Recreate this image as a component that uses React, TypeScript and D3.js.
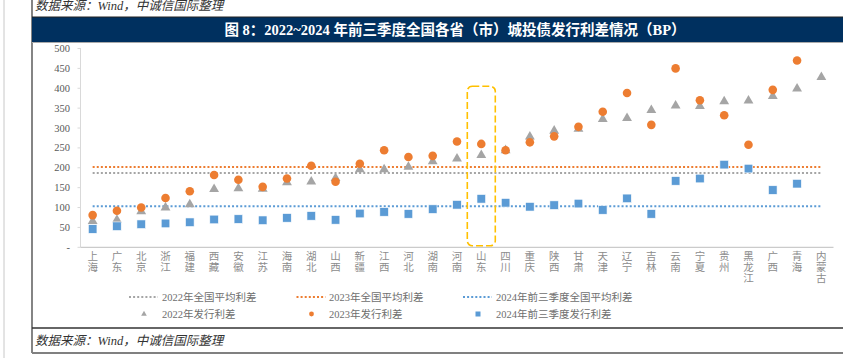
import React from "react";
import * as d3 from "d3";

const categories = ["上海","广东","北京","浙江","福建","西藏","安徽","江苏","海南","湖北","山西","新疆","江西","河北","湖南","河南","山东","四川","重庆","陕西","甘肃","天津","辽宁","吉林","云南","宁夏","贵州","黑龙江","广西","青海","内蒙古"];
const spread2022: (number | null)[] = [68,71,92,102,110,148,150,149,165,167,176,198,198,204,218,225,234,246,280,295,300,324,327,347,358,357,369,371,382,401,430];
const spread2023: (number | null)[] = [81,92,100,124,141,182,170,152,173,205,165,210,244,227,230,266,260,244,264,279,303,341,388,308,450,370,332,258,396,470,null];
const spread2024: (number | null)[] = [46,53,58,60,63,70,71,68,74,79,69,85,89,84,96,107,122,112,102,106,110,94,123,84,167,173,208,198,144,160,null];
const avg2022 = 187;
const avg2023 = 202;
const avg2024 = 103;
const yTicks = [0,50,100,150,200,250,300,350,400,450,500];
const legendLines = ["2022年全国平均利差","2023年全国平均利差","2024年前三季度全国平均利差"];
const legendMarks = ["2022年发行利差","2023年发行利差","2024年前三季度发行利差"];
const highlight = "山东";

const GREY = "#A5A5A5";
const ORANGE = "#ED7D31";
const BLUE = "#5B9BD5";
const serif = "'Liberation Serif','Times New Roman','Noto Sans CJK SC',serif";
const cjk = "'Liberation Serif','Noto Sans CJK SC',sans-serif";

export default function App() {
  const W = 843, H = 358;
  const x = d3.scaleBand<string>().domain(categories).range([80.5, 833.5]).paddingInner(0).paddingOuter(0);
  const bw = x.bandwidth();
  const cx = (c: string) => (x(c) as number) + bw / 2;
  const y = d3.scaleLinear().domain([0, 500]).range([247.3, 48.5]);
  const triPath = d3.symbol().type(d3.symbolTriangle).size(42)() as string;
  const triSmall = d3.symbol().type(d3.symbolTriangle).size(14)() as string;
  const x0 = cx(categories[0]);
  const x1 = cx(categories[categories.length - 1]);
  const dotted = { strokeWidth: 2, strokeDasharray: "2 2.1" };
  const avgs = [
    { v: avg2022, c: GREY },
    { v: avg2023, c: ORANGE },
    { v: avg2024, c: BLUE },
  ];
  const colX = [129, 296.5, 463];
  const textX = [162, 329, 496];
  const hx = cx(highlight);

  return (
    <svg width={W} height={H} style={{ position: "absolute", left: 0, top: 0, background: "#fff" }}>
      <line x1={4} y1={0} x2={4} y2={H} stroke="#c8c8c8" strokeWidth={1} />
      <line x1={32} y1={0} x2={32} y2={353} stroke="#333" strokeWidth={1.2} />
      <text x={35} y={10} fontFamily={cjk} fontSize={12.5} fontStyle="italic" fill="#333">数据来源：Wind，中诚信国际整理</text>
      <rect x={32} y={17} width={W - 32} height={25} fill="#00305F" />
      <line x1={32} y1={17} x2={W} y2={17} stroke="#222" strokeWidth={1} />
      <line x1={32} y1={42.5} x2={W} y2={42.5} stroke="#aaa" strokeWidth={1.2} />
      <text x={455} y={34.5} textAnchor="middle" fontFamily={cjk} fontSize={14.5} fontWeight="bold" fill="#fff">图 8：2022~2024 年前三季度全国各省（市）城投债发行利差情况（BP）</text>

      {/* axes */}
      <line x1={80.5} y1={48} x2={80.5} y2={y(0)} stroke="#D9D9D9" strokeWidth={1} />
      <line x1={80.5} y1={y(0)} x2={833.5} y2={y(0)} stroke="#BFBFBF" strokeWidth={1} />
      {yTicks.map((t) => (
        <g key={t}>
          <line x1={77.5} x2={80.5} y1={y(t)} y2={y(t)} stroke="#D9D9D9" />
          <text x={70} y={y(t) + 3.5} textAnchor="end" fontFamily={serif} fontSize={10.5} fill="#595959">{t === 0 ? "-" : t}</text>
        </g>
      ))}
      {categories.map((c) => (
        <text key={c} fontFamily={cjk} fontSize={10.5} fill="#8C8C8C" textAnchor="middle">
          {Array.from(c).map((ch, i) => (
            <tspan key={i} x={cx(c)} y={259.5 + i * 11}>{ch}</tspan>
          ))}
        </text>
      ))}

      {/* average lines */}
      {avgs.map((a, i) => (
        <line key={i} x1={x0} x2={x1} y1={y(a.v)} y2={y(a.v)} stroke={a.c} {...dotted} />
      ))}

      {/* markers */}
      {categories.map((c, i) => spread2022[i] == null ? null : (
        <path key={"t" + c} d={triPath} transform={`translate(${cx(c)},${y(spread2022[i] as number) + 0.8})`} fill={GREY} />
      ))}
      {categories.map((c, i) => spread2023[i] == null ? null : (
        <circle key={"o" + c} cx={cx(c)} cy={y(spread2023[i] as number)} r={4.3} fill={ORANGE} />
      ))}
      {categories.map((c, i) => spread2024[i] == null ? null : (
        <rect key={"s" + c} x={cx(c) - 4.3} y={y(spread2024[i] as number) - 4.3} width={8.6} height={8.6} fill={BLUE} stroke="#fff" strokeWidth={0.6} />
      ))}

      {/* highlight box */}
      <rect x={hx - 14} y={y(405)} width={28} height={y(4) - y(405)} rx={5} ry={5} fill="none" stroke="#FFC000" strokeWidth={1.6} strokeDasharray="7 3" />

      {/* legend */}
      {legendLines.map((l, i) => (
        <g key={l}>
          <line x1={colX[i]} x2={colX[i] + 29} y1={297} y2={297} stroke={avgs[i].c} {...dotted} />
          <text x={textX[i]} y={300.5} fontFamily={cjk} fontSize={10.5} fill="#6E6E6E">{l}</text>
        </g>
      ))}
      <path d={triSmall} transform={`translate(${colX[0] + 15},314)`} fill={GREY} />
      <circle cx={colX[1] + 15} cy={314} r={2.4} fill={ORANGE} />
      <rect x={colX[2] + 15 - 2.5} y={311.5} width={5} height={5} fill={BLUE} />
      {legendMarks.map((l, i) => (
        <text key={l} x={textX[i]} y={317.5} fontFamily={cjk} fontSize={10.5} fill="#6E6E6E">{l}</text>
      ))}

      <line x1={32} y1={328} x2={W} y2={328} stroke="#333" strokeWidth={1.5} />
      <text x={35} y={345} fontFamily={cjk} fontSize={12.5} fontStyle="italic" fill="#333">数据来源：Wind，中诚信国际整理</text>
      <line x1={32} y1={353} x2={W} y2={353} stroke="#808080" strokeWidth={2} />
    </svg>
  );
}
